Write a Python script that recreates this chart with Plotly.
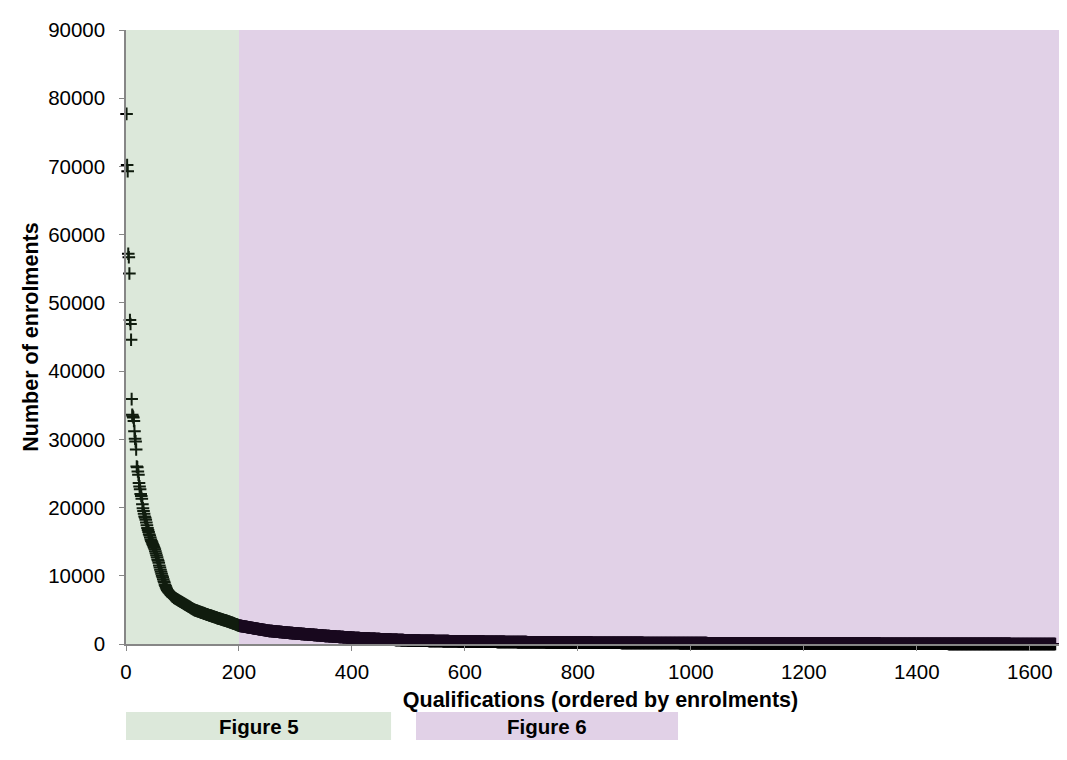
import plotly.graph_objects as go

# enrolments per qualification, ordered largest first
figure5_enrolments = [
    77700, 70200, 69300, 57200, 56700, 54300, 47500, 46900, 44600, 35900,
    33600, 33400, 33200, 32700, 31200, 30100, 29700, 28500, 26000, 25900,
    25300, 24800, 23600, 23100, 22700, 22000, 21700, 21300, 20500, 19900,
    19500, 19100, 18700, 18500, 18200, 17800, 17400, 17000, 16700, 16400,
    16100, 15900, 15600, 15300, 15100, 14900, 14700, 14500, 14300, 14100,
    13900, 13600, 13300, 13000, 12700, 12400, 12200, 11900, 11500, 11200,
    10900, 10600, 10300, 10000, 9800, 9500, 9200, 9000, 8700, 8500,
    8300, 8100, 7900, 7800, 7700, 7600, 7500, 7400, 7300, 7200,
    7100, 7000, 6950, 6900, 6800, 6750, 6700, 6650, 6600, 6550,
    6500, 6450, 6400, 6350, 6300, 6250, 6200, 6150, 6100, 6050,
    6000, 5950, 5900, 5850, 5800, 5750, 5700, 5650, 5600, 5550,
    5500, 5450, 5400, 5350, 5300, 5250, 5200, 5150, 5100, 5050,
    5000, 4970, 4940, 4910, 4880, 4850, 4820, 4790, 4760, 4730,
    4700, 4670, 4640, 4610, 4580, 4550, 4520, 4490, 4460, 4430,
    4400, 4370, 4340, 4310, 4280, 4250, 4220, 4200, 4170, 4150,
    4120, 4090, 4060, 4030, 4000, 3980, 3950, 3920, 3890, 3860,
    3830, 3800, 3780, 3750, 3720, 3700, 3670, 3640, 3620, 3590,
    3560, 3540, 3510, 3490, 3460, 3440, 3410, 3390, 3360, 3330,
    3300, 3270, 3240, 3210, 3180, 3150, 3120, 3090, 3060, 3030,
    3000, 2970, 2940, 2900, 2870, 2840, 2800, 2770, 2740, 2700,
]

figure6_enrolments = [
    2680, 2662, 2651, 2633, 2620, 2604, 2597, 2578, 2561, 2550,
    2532, 2519, 2503, 2490, 2471, 2460, 2444, 2431, 2412, 2400,
    2386, 2371, 2355, 2340, 2328, 2310, 2296, 2283, 2270, 2255,
    2241, 2226, 2214, 2200, 2186, 2171, 2160, 2145, 2131, 2118,
    2104, 2090, 2077, 2063, 2050, 2036, 2021, 2004, 1988, 1962,
    1950, 1942, 1931, 1925, 1914, 1906, 1898, 1890, 1880, 1873,
    1865, 1856, 1848, 1840, 1831, 1823, 1815, 1806, 1799, 1790,
    1782, 1774, 1765, 1757, 1750, 1741, 1733, 1725, 1716, 1708,
    1700, 1692, 1684, 1676, 1668, 1660, 1652, 1644, 1636, 1628,
    1620, 1613, 1605, 1598, 1590, 1583, 1576, 1570, 1564, 1558,
    1550, 1543, 1536, 1529, 1522, 1515, 1508, 1501, 1494, 1487,
    1480, 1474, 1467, 1460, 1453, 1446, 1440, 1433, 1426, 1419,
    1412, 1406, 1399, 1392, 1386, 1379, 1372, 1366, 1359, 1352,
    1346, 1339, 1333, 1326, 1320, 1313, 1306, 1300, 1293, 1287,
    1280, 1274, 1267, 1261, 1255, 1248, 1242, 1236, 1229, 1216,
    1204, 1198, 1192, 1186, 1180, 1174, 1168, 1162, 1156, 1150,
    1144, 1138, 1132, 1126, 1120, 1114, 1108, 1102, 1097, 1091,
    1085, 1079, 1073, 1067, 1062, 1056, 1050, 1044, 1039, 1033,
    1027, 1022, 1016, 1010, 1005, 999, 994, 988, 983, 977,
    972, 966, 961, 955, 950, 944, 939, 934, 928, 918,
    905, 901, 897, 892, 888, 884, 880, 876, 872, 868,
    864, 860, 856, 852, 848, 844, 840, 836, 832, 828,
    824, 820, 816, 812, 808, 804, 800, 796, 792, 788,
    784, 780, 776, 772, 768, 764, 760, 756, 752, 748,
    744, 740, 736, 732, 728, 724, 720, 716, 712, 705,
    700, 696, 692, 689, 685, 682, 678, 675, 671, 668,
    664, 661, 657, 654, 650, 647, 643, 640, 636, 633,
    629, 626, 622, 619, 615, 612, 609, 605, 602, 598,
    595, 592, 588, 585, 582, 578, 575, 572, 568, 565,
    562, 558, 555, 552, 548, 545, 542, 538, 532, 525,
    520, 518, 516, 515, 513, 511, 510, 508, 506, 505,
    503, 501, 500, 498, 497, 495, 493, 492, 490, 489,
    487, 485, 484, 482, 481, 479, 478, 476, 475, 473,
    472, 470, 469, 467, 466, 464, 463, 461, 460, 458,
    457, 455, 454, 452, 451, 449, 448, 447, 445, 444,
    442, 441, 439, 438, 437, 435, 434, 432, 431, 430,
    428, 427, 425, 424, 423, 421, 420, 419, 417, 416,
    415, 413, 412, 411, 409, 408, 407, 405, 404, 403,
    401, 400, 399, 397, 396, 395, 394, 392, 391, 390,
    388, 387, 386, 385, 383, 382, 381, 380, 378, 376,
    375, 374, 373, 372, 371, 370, 369, 367, 366, 365,
    364, 363, 362, 361, 360, 359, 358, 357, 356, 355,
    354, 353, 352, 351, 350, 349, 348, 347, 346, 345,
    344, 343, 342, 341, 340, 339, 338, 337, 336, 335,
    334, 333, 332, 331, 330, 329, 328, 327, 326, 325,
    324, 323, 322, 321, 320, 319, 318, 317, 316, 315,
    314, 313, 312, 311, 310, 309, 308, 307, 306, 305,
    304, 303, 302, 301, 300, 299, 298, 297, 296, 295,
    294, 293, 292, 291, 290, 289, 288, 287, 286, 285,
    284, 283, 282, 281, 280, 279, 278, 277, 276, 274,
    273, 272, 272, 271, 270, 270, 269, 268, 268, 267,
    266, 266, 265, 264, 264, 263, 262, 262, 261, 260,
    260, 259, 258, 258, 257, 256, 256, 255, 254, 254,
    253, 252, 252, 251, 250, 250, 249, 248, 248, 247,
    246, 246, 245, 244, 244, 243, 242, 242, 241, 240,
    240, 239, 238, 238, 237, 236, 236, 235, 234, 234,
    233, 232, 232, 231, 230, 230, 229, 228, 228, 227,
    226, 226, 225, 224, 224, 223, 222, 222, 221, 220,
    220, 219, 218, 218, 217, 216, 216, 215, 214, 214,
    213, 212, 212, 211, 210, 210, 209, 208, 208, 207,
    207, 206, 206, 205, 205, 204, 204, 203, 203, 202,
    202, 201, 201, 200, 200, 199, 199, 198, 198, 197,
    197, 196, 196, 195, 195, 194, 194, 193, 193, 192,
    192, 191, 191, 190, 190, 190, 189, 189, 188, 188,
    187, 187, 186, 186, 186, 185, 185, 184, 184, 183,
    183, 183, 182, 182, 181, 181, 180, 180, 180, 179,
    179, 178, 178, 178, 177, 177, 176, 176, 176, 175,
    175, 174, 174, 174, 173, 173, 172, 172, 172, 171,
    171, 170, 170, 170, 169, 169, 168, 168, 168, 167,
    167, 166, 166, 166, 165, 165, 164, 164, 164, 163,
    163, 162, 162, 162, 161, 161, 161, 160, 160, 159,
    159, 159, 158, 158, 158, 157, 157, 157, 156, 156,
    155, 155, 155, 154, 154, 154, 153, 153, 153, 152,
    152, 152, 151, 151, 150, 150, 150, 149, 149, 149,
    148, 148, 148, 147, 147, 147, 146, 146, 146, 145,
    145, 145, 144, 144, 144, 143, 143, 143, 142, 142,
    142, 141, 141, 141, 140, 140, 140, 139, 139, 139,
    138, 138, 138, 137, 137, 137, 136, 136, 136, 135,
    135, 135, 134, 134, 134, 133, 133, 133, 132, 132,
    132, 131, 131, 131, 130, 130, 130, 129, 129, 129,
    128, 128, 128, 127, 127, 127, 127, 126, 126, 126,
    125, 125, 125, 125, 124, 124, 124, 123, 123, 123,
    123, 122, 122, 122, 121, 121, 121, 121, 120, 120,
    120, 119, 119, 119, 119, 118, 118, 118, 117, 117,
    117, 117, 116, 116, 116, 115, 115, 115, 115, 114,
    114, 114, 113, 113, 113, 113, 112, 112, 112, 111,
    111, 111, 111, 110, 110, 110, 109, 109, 109, 109,
    108, 108, 108, 107, 107, 107, 107, 106, 106, 106,
    105, 105, 105, 105, 104, 104, 104, 103, 103, 103,
    103, 102, 102, 102, 101, 101, 101, 101, 100, 100,
    100, 99, 99, 99, 99, 98, 98, 98, 98, 97,
    97, 97, 97, 96, 96, 96, 96, 96, 95, 95,
    95, 95, 94, 94, 94, 94, 93, 93, 93, 93,
    92, 92, 92, 92, 92, 91, 91, 91, 91, 90,
    90, 90, 90, 89, 89, 89, 89, 89, 88, 88,
    88, 88, 87, 87, 87, 87, 86, 86, 86, 86,
    86, 85, 85, 85, 85, 84, 84, 84, 84, 83,
    83, 83, 83, 83, 82, 82, 82, 82, 81, 81,
    81, 81, 80, 80, 80, 80, 80, 79, 79, 79,
    79, 78, 78, 78, 78, 77, 77, 77, 77, 77,
    76, 76, 76, 76, 75, 75, 75, 75, 75, 74,
    74, 74, 74, 73, 73, 73, 73, 73, 72, 72,
    72, 72, 71, 71, 71, 71, 71, 70, 70, 70,
    70, 70, 69, 69, 69, 69, 68, 68, 68, 68,
    68, 67, 67, 67, 67, 66, 66, 66, 66, 66,
    65, 65, 65, 65, 65, 64, 64, 64, 64, 63,
    63, 63, 63, 63, 62, 62, 62, 62, 62, 61,
    61, 61, 61, 60, 60, 60, 60, 60, 59, 59,
    59, 59, 59, 58, 58, 58, 58, 57, 57, 57,
    57, 57, 56, 56, 56, 56, 56, 55, 55, 55,
    55, 55, 54, 54, 54, 54, 54, 53, 53, 53,
    53, 53, 52, 52, 52, 52, 51, 51, 51, 51,
    51, 50, 50, 50, 50, 50, 49, 49, 49, 49,
    49, 48, 48, 48, 48, 47, 47, 47, 47, 47,
    46, 46, 46, 46, 46, 45, 45, 45, 45, 45,
    44, 44, 44, 44, 44, 43, 43, 43, 43, 43,
    42, 42, 42, 42, 42, 41, 41, 41, 41, 41,
    40, 40, 40, 40, 40, 39, 39, 39, 39, 39,
    38, 38, 38, 38, 38, 37, 37, 37, 37, 37,
    36, 36, 36, 36, 36, 35, 35, 35, 35, 35,
    34, 34, 34, 34, 34, 34, 33, 33, 33, 33,
    33, 33, 32, 32, 32, 32, 32, 32, 31, 31,
    31, 31, 31, 31, 30, 30, 30, 30, 30, 30,
    30, 29, 29, 29, 29, 29, 29, 28, 28, 28,
    28, 28, 28, 27, 27, 27, 27, 27, 27, 26,
    26, 26, 26, 26, 26, 25, 25, 25, 25, 25,
    25, 25, 24, 24, 24, 24, 24, 24, 23, 23,
    23, 23, 23, 23, 22, 22, 22, 22, 22, 22,
    22, 21, 21, 21, 21, 21, 21, 20, 20, 20,
    20, 20, 20, 20, 19, 19, 19, 19, 19, 19,
    19, 18, 18, 18, 18, 18, 18, 18, 17, 17,
    17, 17, 17, 17, 17, 16, 16, 16, 16, 16,
    16, 16, 16, 15, 15, 15, 15, 15, 15, 15,
    15, 14, 14, 14, 14, 14, 14, 14, 14, 13,
    13, 13, 13, 13, 13, 13, 13, 12, 12, 12,
    12, 12, 12, 12, 12, 12, 11, 11, 11, 11,
    11, 11, 11, 11, 11, 10, 10, 10, 10, 10,
    10, 10, 10, 10, 10, 9, 9, 9, 9, 9,
    9, 9, 9, 9, 9, 8, 8, 8, 8, 8,
    8, 8, 8, 8, 8, 8, 7, 7, 7, 7,
    7, 7, 7, 7, 7, 7, 7, 6, 6, 6,
    6, 6, 6, 6, 6, 6, 5, 5, 5, 5,
    5, 5, 5, 5, 4, 4, 4, 4, 4, 4,
    3, 3, 3, 3, 3, 2, 2, 2, 2, 2,
    1, 1, 1, 1, 1,
]

x_ticks = [0, 200, 400, 600, 800, 1000, 1200, 1400, 1600]
y_ticks = [0, 10000, 20000, 30000, 40000, 50000, 60000, 70000, 80000, 90000]
band_edges = [0, 200, 1680]
band_labels = ['Figure 5', 'Figure 6']

enrolments = figure5_enrolments + figure6_enrolments
ranks = list(range(1, len(enrolments) + 1))

font_name = 'Liberation Sans, Arial, sans-serif'
band_tint = ['rgba(80,140,70,0.2)', 'rgba(114,38,143,0.21)']
box_colour = ['#DCE8DA', '#E1D1E7']

layout = go.Layout(
    width = 1067,
    height = 760,
    paper_bgcolor = 'white',
    plot_bgcolor = 'white',
    showlegend = False,
    font = dict(family = font_name, color = '#000000', size = 20.5),
    margin = dict(l = 118, r = 0, t = 22, b = 124),
    xaxis = dict(range = [0, band_edges[-1]],
                 tickvals = x_ticks,
                 showgrid = False,
                 zeroline = False,
                 showline = True,
                 linecolor = '#868686',
                 linewidth = 1.5,
                 ticks = 'outside',
                 ticklen = 5,
                 tickcolor = '#868686',
                 ticklabelstandoff = 4,
                 title = dict(text = 'Qualifications (ordered by enrolments)',
                              font = dict(size = 21.5, weight = 'bold'),
                              standoff = 10)),
    yaxis = dict(range = [0, 90000],
                 tickvals = y_ticks,
                 tickformat = 'd',
                 showgrid = False,
                 zeroline = False,
                 showline = True,
                 linecolor = '#868686',
                 linewidth = 1.5,
                 ticks = 'outside',
                 ticklen = 5,
                 tickcolor = '#868686',
                 ticklabelstandoff = 10,
                 title = dict(text = 'Number of enrolments',
                              font = dict(size = 21.5, weight = 'bold'),
                              standoff = 4)),
)

fig = go.Figure(layout = layout)

fig.add_trace(
    go.Scatter(
        x = ranks,
        y = enrolments,
        mode = 'markers',
        name = 'Enrolments',
        cliponaxis = False,
        marker = dict(symbol = 'cross-thin', size = 9,
                      line = dict(color = '#000000', width = 2))))

# tinted bands sit above the markers, as in the original
box_x = [[0.0, 0.2793], [0.3056, 0.5817]]
for i in range(2):
    fig.add_shape(type = 'rect', xref = 'x', yref = 'y',
                  x0 = band_edges[i], x1 = band_edges[i + 1], y0 = 0, y1 = 90000,
                  fillcolor = band_tint[i], line_width = 0, layer = 'above')
    fig.add_shape(type = 'rect', xref = 'paper', yref = 'paper',
                  x0 = box_x[i][0], x1 = box_x[i][1], y0 = -0.1564, y1 = -0.1107,
                  fillcolor = box_colour[i], line_width = 0, layer = 'below')
    fig.add_annotation(x = (box_x[i][0] + box_x[i][1]) / 2, y = -0.1336,
                       xref = 'paper', yref = 'paper', text = band_labels[i],
                       showarrow = False, xanchor = 'center', yanchor = 'middle',
                       font = dict(size = 20.5, weight = 'bold'))

fig.write_html('out.html')
